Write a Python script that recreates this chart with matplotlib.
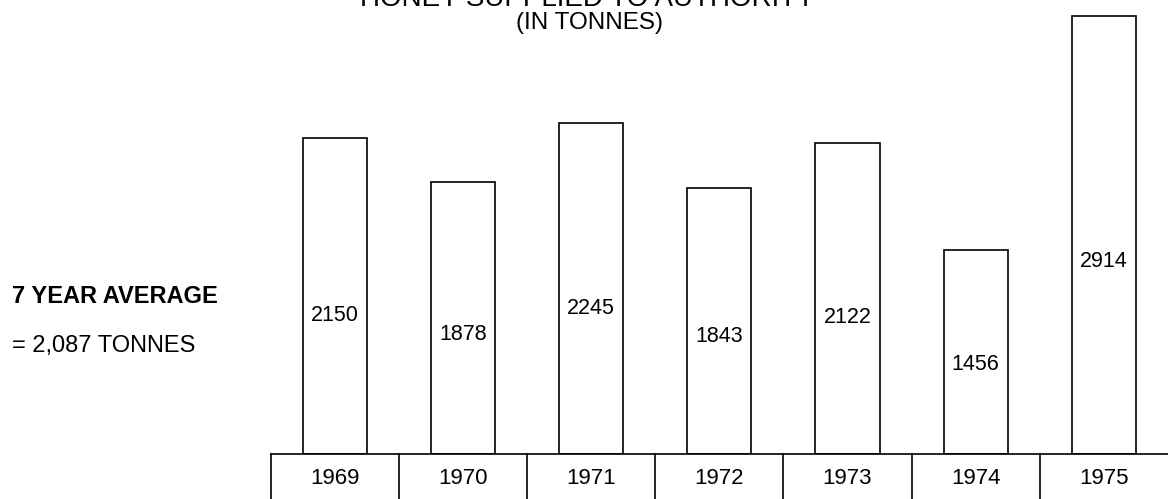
import matplotlib
matplotlib.use("Agg")
import matplotlib.pyplot as plt
import numpy as np

plt.rcParams['font.family'] = ['Liberation Sans', 'DejaVu Sans']

# ---- data ----
years = ["1969", "1970", "1971", "1972", "1973", "1974", "1975"]
tonnes = [2150, 1878, 2245, 1843, 2122, 1456, 2914]
title_line1 = "HONEY SUPPLIED TO AUTHORITY"
title_line2 = "(IN TONNES)"
avg_title = "7 YEAR AVERAGE"
avg_text = "= 2,087 TONNES"

# ---- layout ----
W, H = 1168, 499
base_px = 454          # baseline pixel row (from top)
YMIN, YMAX = 184, 3013
XMIN, XMAX = -2.61, 6.5
LW = 1.2

fig = plt.figure(figsize=(W / 100, H / 100), dpi=100)
fig.patch.set_facecolor("white")

ax = fig.add_axes([0, (H - base_px) / H, 1, base_px / H])
ax.set_xlim(XMIN, XMAX)
ax.set_ylim(YMIN, YMAX)
ax.axis("off")

x = np.arange(len(years))
vals = np.array(tonnes, dtype=float)
ax.bar(x, vals - YMIN, bottom=YMIN, width=0.5, facecolor="white",
       edgecolor="black", linewidth=LW)

for xi, v in zip(x, vals):
    ax.text(xi, YMIN + 0.44 * (v - YMIN), f"{int(v)}", ha="center", va="center",
            fontsize=15.5, color="black")

# year table below baseline
tax = fig.add_axes([0, 0, 1, (H - base_px) / H])
tax.set_xlim(XMIN, XMAX)
tax.set_ylim(0, 1)
tax.axis("off")
tax.plot([-0.5, XMAX], [1, 1], color="black", lw=LW, clip_on=False)
for k in range(len(years)):
    tax.plot([k - 0.5, k - 0.5], [0, 1], color="black", lw=LW, clip_on=False)
for xi, yr in zip(x, years):
    tax.text(xi, 0.45, yr, ha="center", va="center", fontsize=16, color="black")

# titles (first line cut by top edge as in the reference)
fig.text(587 / W, 1 - 6 / H, title_line1, ha="center", va="baseline",
         fontsize=20, color="black")
fig.text(589 / W, 1 - 29 / H, title_line2, ha="center", va="baseline",
         fontsize=17.5, color="black")

# left annotation
fig.text(12 / W, 1 - 303 / H, avg_title, ha="left", va="baseline",
         fontsize=17, fontweight="bold", color="black")
fig.text(12 / W, 1 - 352 / H, avg_text, ha="left", va="baseline",
         fontsize=17, color="black")

fig.savefig("out.png", dpi=100, facecolor="white")
